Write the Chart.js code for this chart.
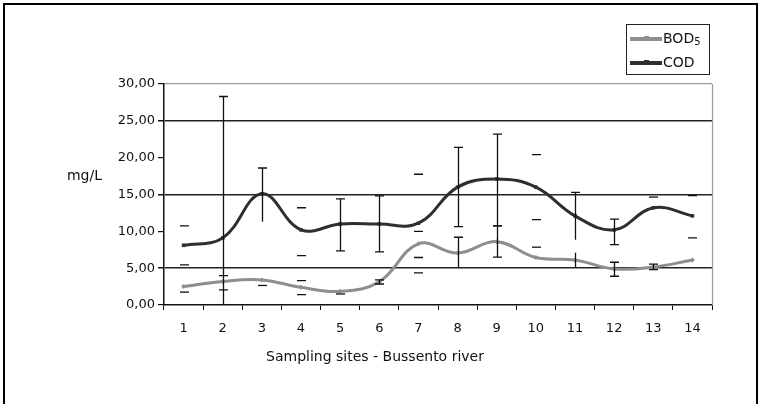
<!DOCTYPE html>
<html><head><meta charset="utf-8">
<script src="https://cdn.jsdelivr.net/npm/chart.js@4.4.0/dist/chart.umd.min.js"></script>
<style>
html,body{margin:0;padding:0;background:#fff;}
#wrap{position:relative;width:767px;height:404px;overflow:hidden;background:#fff;}
#frame{position:absolute;left:3px;top:3px;width:755px;height:420px;border:2px solid #000;box-sizing:border-box;pointer-events:none;}
canvas{position:absolute;left:0;top:0;}
</style></head><body>
<div id="wrap"><canvas id="c" width="767" height="404"></canvas><div id="frame"></div></div>
<script>
// ---- data ----
const sites = ['1','2','3','4','5','6','7','8','9','10','11','12','13','14'];
const bod5 = [2.5, 3.2, 3.4, 2.4, 1.85, 3.15, 8.3, 7.05, 8.6, 6.45, 6.1, 4.9, 5.15, 6.1];
const cod  = [8.1, 9.1, 15.1, 10.2, 11.0, 11.0, 11.1, 16.0, 17.1, 16.0, 12.1, 10.2, 13.2, 12.1];
// error bar ends (null = not visible)
const codHigh = [10.75, 28.3, 18.6, 13.2, 14.4, 14.8, 17.75, 21.4, 23.2, 20.4, 15.3, 11.65, 14.65, 14.85];
const codLow  = [5.45, 0, 11.3, 6.7, 7.35, 7.2, 4.35, 10.65, 10.75, 11.6, 8.85, 8.2, null, 9.1];
const bodHigh = [null, 4.0, null, 3.3, null, 3.4, 10.0, 9.2, 10.75, 7.85, 7.1, 5.8, 5.55, null];
const bodLow  = [1.75, 2.05, 2.65, 1.4, 1.5, 2.85, 6.45, 5.0, 6.5, null, 5.1, 3.9, 4.8, null];
// how each error bar is drawn: caps only / stem+caps / stem+top cap / stem only
const codBarStyle = ['caps','top','top','caps','bar','bar','caps','bar','bar','caps','top','bar','caps','caps'];
const bodBarStyle = ['caps','caps','caps','caps','caps','bar','caps','top','bar','caps','stem','bar','bar',null];
const yTitle = 'mg/L';
const xTitle = 'Sampling sites - Bussento river';

const FONT = '"DejaVu Sans", "Liberation Sans", Arial, sans-serif';
const COD_COLOR = '#2e2e2e';
const BOD_COLOR = '#8e8e8e';

const errorBars = {
  id: 'errorBars',
  afterDatasetsDraw(chart) {
    const ctx = chart.ctx, xs = chart.scales.x, ys = chart.scales.y;
    const sets = [[codHigh, codLow, codBarStyle], [bodHigh, bodLow, bodBarStyle]];
    ctx.save();
    ctx.strokeStyle = '#111';
    ctx.lineWidth = 1.3;
    const cw = 4.5;
    for (const [hi, lo, st] of sets) {
      for (let i = 0; i < sites.length; i++) {
        const s = st[i];
        if (!s) continue;
        const x = Math.round(xs.getPixelForValue(i)) + 0.5;
        const yh = hi[i] == null ? null : ys.getPixelForValue(hi[i]);
        const yl = lo[i] == null ? null : ys.getPixelForValue(lo[i]);
        ctx.beginPath();
        if (s !== 'caps' && yh != null && yl != null) { ctx.moveTo(x, yh); ctx.lineTo(x, yl); }
        if ((s === 'caps' || s === 'bar' || s === 'top') && yh != null) { ctx.moveTo(x - cw, yh); ctx.lineTo(x + cw, yh); }
        if ((s === 'caps' || s === 'bar') && yl != null) { ctx.moveTo(x - cw, yl); ctx.lineTo(x + cw, yl); }
        ctx.stroke();
      }
    }
    ctx.restore();
  }
};

const decor = {
  id: 'decor',
  afterDraw(chart) {
    const ctx = chart.ctx, a = chart.chartArea;
    ctx.save();
    // right border of plot
    ctx.strokeStyle = '#9a9a9a'; ctx.lineWidth = 1.2;
    ctx.beginPath(); ctx.moveTo(a.right + 0.5, a.top); ctx.lineTo(a.right + 0.5, a.bottom); ctx.stroke();
    // axis titles
    ctx.fillStyle = '#111';
    ctx.textBaseline = 'middle';
    ctx.font = '14px ' + FONT;
    ctx.textAlign = 'right';
    ctx.fillText(yTitle, a.left - 62, a.top + 0.42 * (a.bottom - a.top));
    ctx.textAlign = 'center';
    ctx.fillText(xTitle, a.left + 211, a.bottom + 52);
    // legend box
    const bx = a.right - 86, by = a.top - 60, bw = 83, bh = 50;
    ctx.strokeStyle = '#222'; ctx.lineWidth = 1;
    ctx.strokeRect(bx + 0.5, by + 0.5, bw, bh);
    chart.data.datasets.forEach((d, k) => {
      const yy = by + 15 + k * 24;
      ctx.strokeStyle = d.borderColor; ctx.lineWidth = 4;
      ctx.beginPath(); ctx.moveTo(bx + 4, yy); ctx.lineTo(bx + 36, yy); ctx.stroke();
      ctx.fillStyle = d.borderColor;
      ctx.fillRect(bx + 18, yy - 3, 5, 5);
      ctx.fillStyle = '#111';
      ctx.textAlign = 'left';
      ctx.font = '14px ' + FONT;
      const m = d.label.match(/^(\D+)(\d*)$/);
      ctx.fillText(m[1], bx + 37, yy);
      if (m[2]) {
        const w = ctx.measureText(m[1]).width;
        ctx.font = '10px ' + FONT;
        ctx.fillText(m[2], bx + 37 + w, yy + 3);
      }
    });
    ctx.restore();
  }
};

new Chart(document.getElementById('c'), {
  type: 'line',
  data: {
    labels: sites,
    datasets: [
      { label: 'BOD5', data: bod5, borderColor: BOD_COLOR, backgroundColor: BOD_COLOR,
        borderWidth: 3, tension: 0.4, pointStyle: 'rectRot', pointRadius: 2.5, pointBorderWidth: 0 },
      { label: 'COD', data: cod, borderColor: COD_COLOR, backgroundColor: COD_COLOR,
        borderWidth: 3, tension: 0.4, pointStyle: 'rect', pointRadius: 2.5, pointBorderWidth: 0 }
    ]
  },
  options: {
    responsive: false, animation: false,
    layout: { padding: { left: 104, right: 55, top: 84, bottom: 59 } },
    plugins: { legend: { display: false }, tooltip: { enabled: false } },
    scales: {
      x: {
        offset: true,
        grid: { offset: true, drawOnChartArea: false, drawTicks: true, tickLength: 5, color: '#111', lineWidth: 1 },
        border: { color: '#111', width: 1.5 },
        ticks: { color: '#111', font: { family: FONT, size: 13 }, padding: 11, autoSkip: false, maxRotation: 0 },
        afterFit(s) { s.height = 40; }
      },
      y: {
        min: 0, max: 30,
        ticks: { stepSize: 5, color: '#111', font: { family: FONT, size: 13 }, padding: 3,
                 callback: v => v.toFixed(2).replace('.', ',') },
        grid: {
          color: c => c.tick.value === 30 ? '#9a9a9a' : (c.tick.value % 10 === 5 ? '#222' : 'rgba(0,0,0,0)'),
          lineWidth: c => c.tick.value % 10 === 5 ? 1.5 : 1.2,
          tickColor: '#111', tickLength: 6
        },
        border: { color: '#111', width: 1.5 },
        afterFit(s) { s.width = 60; }
      }
    }
  },
  plugins: [errorBars, decor]
});
</script>
</body></html>
